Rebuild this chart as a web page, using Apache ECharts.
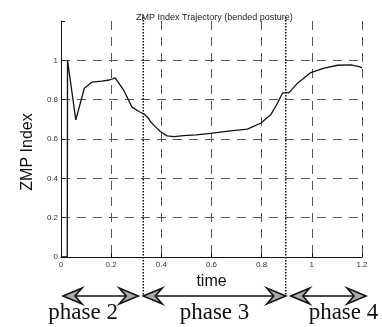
<!DOCTYPE html>
<html>
<head>
<meta charset="utf-8">
<script src="https://cdn.jsdelivr.net/npm/echarts@6/dist/echarts.min.js"></script>
<style>
html, body { margin: 0; padding: 0; background: #fff; }
#chart { width: 382px; height: 327px; }
</style>
</head>
<body>
<div id="chart"></div>
<script>
// time (s) and ZMP index
const timeValues = [0, 0.025, 0.026, 0.059, 0.093, 0.123, 0.163, 0.193, 0.216, 0.249, 0.283, 0.316, 0.33, 0.349, 0.356, 0.376, 0.396, 0.423, 0.45, 0.489, 0.54, 0.596, 0.676, 0.743, 0.796, 0.836, 0.863, 0.883, 0.896, 0.909, 0.943, 0.996, 1.049, 1.103, 1.156, 1.189, 1.2];
const zmpValues = [0, 0, 1.0, 0.697, 0.858, 0.889, 0.894, 0.9, 0.911, 0.85, 0.762, 0.736, 0.728, 0.706, 0.689, 0.663, 0.638, 0.616, 0.612, 0.617, 0.621, 0.629, 0.641, 0.65, 0.68, 0.723, 0.782, 0.833, 0.836, 0.836, 0.884, 0.938, 0.96, 0.975, 0.977, 0.968, 0.962];

// phase boundaries (dotted lines), arrow spans under the axis, label centres
const phaseBounds = [0.328, 0.896];
const phaseSpans = [[0.008, 0.308], [0.328, 0.896], [0.916, 1.216]];
const phaseLabels = ["phase 2", "phase 3", "phase 4"];
const phaseLabelAt = [0.088, 0.612, 1.126];

const gridColor = "#555";
const chart = echarts.init(document.getElementById("chart"));

chart.setOption({
  animation: false,
  textStyle: { fontFamily: "Liberation Sans" },
  title: {
    text: "ZMP Index Trajectory (bended posture)",
    left: 131,
    top: 8,
    textStyle: { fontSize: 9, fontWeight: "normal", color: "#222", fontFamily: "Liberation Sans" }
  },
  grid: { left: 61, right: 20, top: 21, bottom: 70 },
  xAxis: {
    type: "value",
    min: 0,
    max: 1.2,
    interval: 0.2,
    name: "time",
    nameLocation: "middle",
    nameGap: 12,
    nameTextStyle: { fontSize: 16, color: "#111" },
    axisLine: { lineStyle: { color: "#111", width: 1 } },
    axisTick: { inside: true, length: 4, lineStyle: { color: "#111" } },
    axisLabel: { fontSize: 8, color: "#333", margin: 4 },
    splitLine: { show: true, lineStyle: { color: gridColor, type: [9, 7], width: 1 } }
  },
  yAxis: {
    type: "value",
    min: 0,
    max: 1.2,
    interval: 0.2,
    name: "ZMP Index",
    nameLocation: "middle",
    nameGap: 24,
    nameTextStyle: { fontSize: 16, color: "#111", padding: [0, 26, 0, 0] },
    axisLine: { show: true, lineStyle: { color: "#111", width: 1 } },
    axisTick: { show: true, inside: true, length: 4, lineStyle: { color: "#111" } },
    axisLabel: {
      fontSize: 8,
      color: "#333",
      margin: 3,
      formatter: v => (v > 1.1 ? "" : String(v))
    },
    splitLine: {
      show: true,
      lineStyle: {
        color: [gridColor, gridColor, gridColor, gridColor, gridColor, gridColor, "transparent"],
        type: [9, 7],
        width: 1
      }
    }
  },
  series: [
    {
      type: "line",
      data: timeValues.map((t, i) => [t, zmpValues[i]]),
      showSymbol: false,
      clip: false,
      lineStyle: { color: "#111", width: 1.3 }
    }
  ]
});

// annotations: dotted phase boundaries, double arrows and phase names
const baseY = chart.convertToPixel({ yAxisIndex: 0 }, 0);
const topY = chart.convertToPixel({ yAxisIndex: 0 }, 1.2);
const arrowY = baseY + 39;
const labelY = baseY + 56;
const graphics = [];

phaseBounds.forEach(b => {
  const x = chart.convertToPixel({ xAxisIndex: 0 }, b);
  graphics.push({
    type: "line",
    shape: { x1: x, y1: topY - 4, x2: x, y2: arrowY },
    style: { stroke: "#111", lineWidth: 1.5, lineDash: [1.5, 1.5] },
    z: 10
  });
});

function head(x, dir) {
  // barbed arrowhead, tip at x, pointing in dir (+1 right, -1 left)
  return {
    type: "polygon",
    shape: {
      points: [
        [x, arrowY],
        [x - dir * 19, arrowY - 8],
        [x - dir * 12, arrowY],
        [x - dir * 19, arrowY + 8]
      ]
    },
    style: { fill: "#aaa", stroke: "#111", lineWidth: 1.6, lineJoin: "miter" },
    z: 11
  };
}

phaseSpans.forEach((span, i) => {
  const x1 = chart.convertToPixel({ xAxisIndex: 0 }, span[0]);
  const x2 = chart.convertToPixel({ xAxisIndex: 0 }, span[1]);
  graphics.push({
    type: "line",
    shape: { x1: x1 + 8, y1: arrowY, x2: x2 - 8, y2: arrowY },
    style: { stroke: "#111", lineWidth: 1.5 },
    z: 10
  });
  graphics.push(head(x1, -1));
  graphics.push(head(x2, 1));
  graphics.push({
    type: "text",
    x: chart.convertToPixel({ xAxisIndex: 0 }, phaseLabelAt[i]),
    y: labelY,
    style: {
      text: phaseLabels[i],
      fontFamily: "Liberation Serif",
      fontSize: 23,
      fill: "#111",
      align: "center",
      verticalAlign: "middle"
    },
    z: 10
  });
});

chart.setOption({ graphic: graphics });
</script>
</body>
</html>
